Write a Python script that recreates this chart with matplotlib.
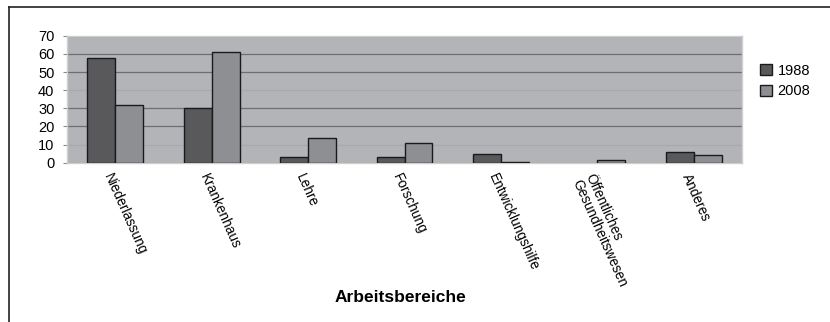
import matplotlib.pyplot as plt
import numpy as np
from matplotlib.lines import Line2D

plt.rcParams['font.family'] = ['Liberation Sans', 'DejaVu Sans']

# --- data ---
categories = ['Niederlassung', 'Krankenhaus', 'Lehre', 'Forschung',
              'Entwicklungshilfe', 'Öffentliches\nGesundheitswesen', 'Anderes']
vals_1988 = [58, 30, 3, 3, 5, 0, 6]
vals_2008 = [32, 61, 13.5, 11, 0.5, 1.5, 4.3]
series_labels = ['1988', '2008']
yticks = [0, 10, 20, 30, 40, 50, 60, 70]

fig = plt.figure(figsize=(8.3, 3.22), dpi=100)
ax = fig.add_axes([0.0807, 0.4947, 0.8133, 0.394])
ax.set_facecolor('#b3b4b8')

x = np.arange(len(categories))
w = 0.29
b1 = ax.bar(x - w / 2, vals_1988, w, color='#59595b', edgecolor='#1a1a1a', linewidth=1.0,
            label=series_labels[0], zorder=3)
b2 = ax.bar(x + w / 2, vals_2008, w, color='#8e8f93', edgecolor='#1a1a1a', linewidth=1.0,
            label=series_labels[1], zorder=3)
# empty bars are not drawn at all in the original
for bars in (b1, b2):
    for r in bars:
        if r.get_height() == 0:
            r.set_visible(False)

ax.set_xlim(-0.5, len(categories) - 0.5)
ax.set_ylim(0, 70)
ax.set_yticks(yticks)
ax.set_yticklabels([str(t) for t in yticks], fontsize=10.5)
ax.tick_params(axis='y', length=3, color='#888888', pad=6)
ax.tick_params(axis='x', length=0)

ax.yaxis.grid(True, color='#6e6e70', linewidth=0.9, zorder=1)
for t, gl in zip(yticks, ax.get_ygridlines()):
    if t in (10, 40):
        gl.set_alpha(0.15)
ax.set_axisbelow(True)

for s in ax.spines.values():
    s.set_color('#cfcfcf')
    s.set_linewidth(1.0)

ax.set_xticks(x)
ax.set_xticklabels([])
for xi, lab in zip(x, categories):
    ax.text(xi - 0.02, -5, lab, rotation=-66, rotation_mode='anchor',
            ha='left', va='top', fontsize=9.8, transform=ax.transData,
            linespacing=1.0)

fig.text(0.482, 0.075, 'Arbeitsbereiche', ha='center', va='center',
         fontsize=12.5, fontweight='bold')

fig.legend(loc='upper left', bbox_to_anchor=(0.907, 0.825), frameon=False,
           fontsize=10.5, handlelength=0.8, handleheight=0.8, handletextpad=0.4,
           labelspacing=0.45, borderpad=0)

# frame lines of the original figure
fig.add_artist(Line2D([9 / 830, 1.0], [1 - 7 / 322, 1 - 7 / 322],
                      transform=fig.transFigure, color='#222222', lw=1.2))
fig.add_artist(Line2D([9 / 830, 9 / 830], [0, 1 - 7 / 322],
                      transform=fig.transFigure, color='#222222', lw=1.2))

plt.savefig('out.png', dpi=100)
